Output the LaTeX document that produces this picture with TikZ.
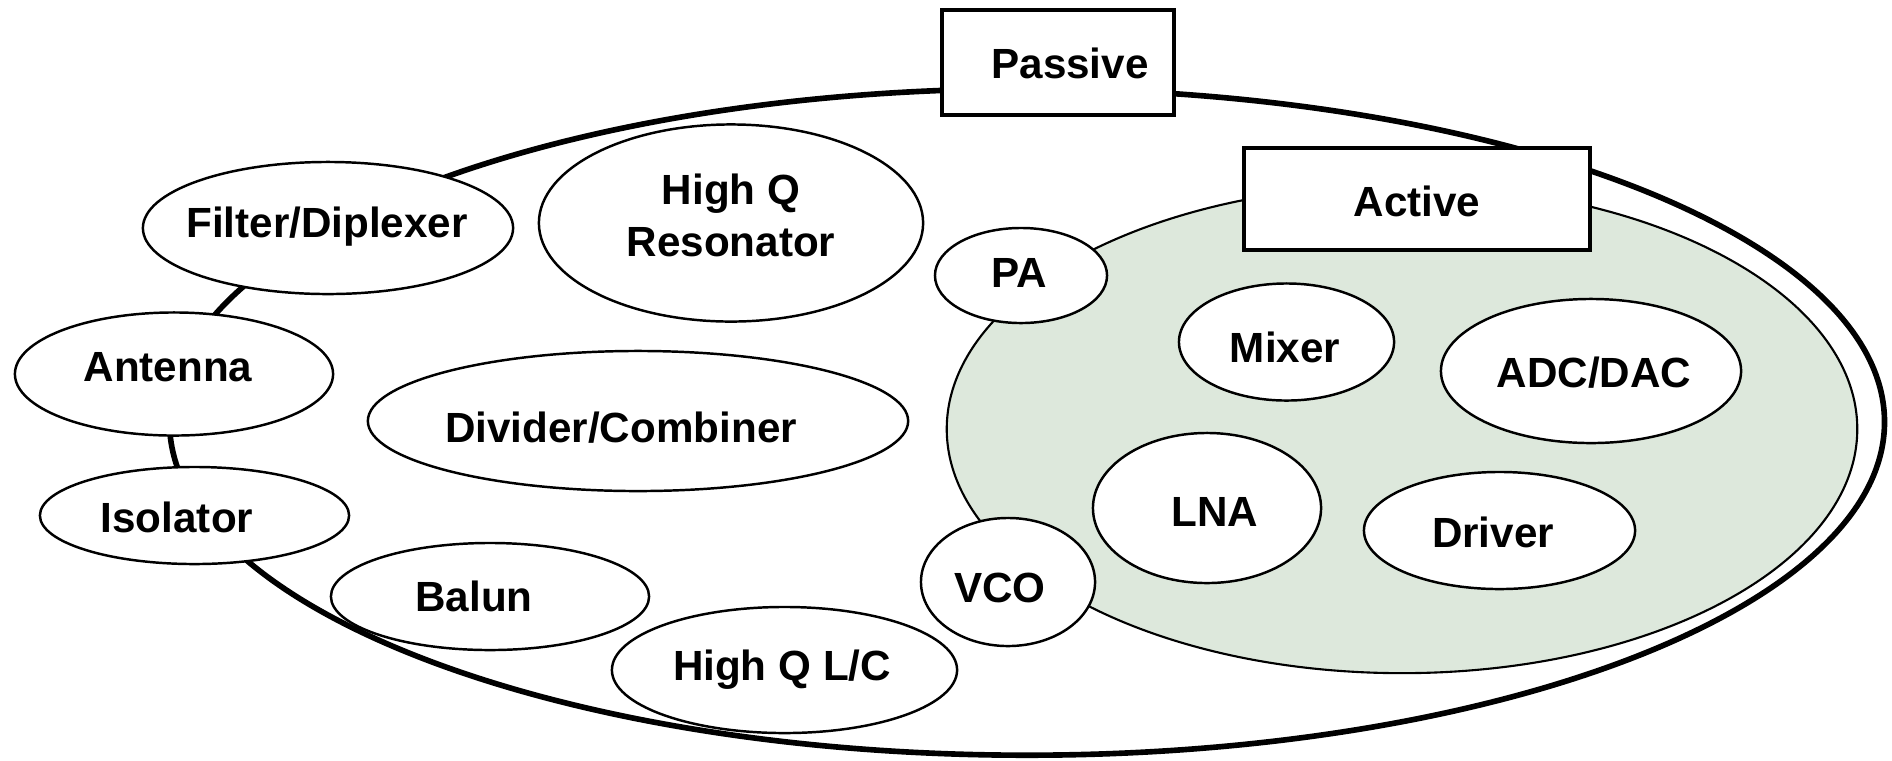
\documentclass[tikz,border=0pt]{standalone}
\usepackage{fontspec}
\setmainfont{Liberation Sans}
\usetikzlibrary{shapes.geometric}
\definecolor{activebg}{RGB}{221,232,220}
\tikzset{
  blob/.style={ellipse, draw, fill=white, line width=0.7pt, inner sep=0pt},
  tag/.style={rectangle, draw, fill=white, line width=1pt, inner sep=0pt},
  lbl/.style={font=\fontsize{12}{14.8}\selectfont\bfseries, inner sep=0pt, anchor=base}
}

\begin{document}
\begin{tikzpicture}[x=0.01cm, y=-0.01cm]
    \useasboundingbox (0,0) rectangle (1892,760);

    % Outer ring - passive parts
    \node[ellipse, draw, line width=1.6pt, inner sep=0pt,
          minimum width=17.14cm, minimum height=6.66cm] (ring) at (1027,422) {};

    % Inner region - active parts
    \node[ellipse, draw, fill=activebg, line width=0.6pt, inner sep=0pt,
          minimum width=9.10cm, minimum height=4.88cm] (core) at (1402,429) {};

    % Part bubbles
    \foreach \n/\x/\y/\w/\h in {filter/328/228/3.70/1.32, reson/731/223/3.84/1.97,
        antenna/174/374/3.18/1.23, divider/638/421/5.40/1.40,
        isolator/194.5/515.5/3.09/0.97, balun/490/596.5/3.18/1.07,
        hqlc/784.5/670/3.45/1.26, pa/1021/275.5/1.72/0.95,
        vco/1008/582/1.74/1.28, mixer/1286.5/342/2.15/1.17,
        adc/1591/371/3.00/1.44, lna/1207/508/2.28/1.50,
        driver/1499.5/530.5/2.71/1.17} {
        \node[blob, minimum width=\w cm, minimum height=\h cm] (\n) at (\x,\y) {};
    }

    % Headers
    \node[tag, minimum width=2.32cm, minimum height=1.05cm] (passive) at (1058,62.5) {};
    \node[tag, minimum width=3.46cm, minimum height=1.02cm] (active) at (1417,199) {};

    % Labels
    \node[lbl] (passivet) at (1070,78) {Passive};
    \node[lbl] (activet) at (1417,216) {Active};
    \node[lbl] (filtert) at (327,237) {Filter/Diplexer};
    \node[lbl, anchor=center, align=center] (resont) at (731,215) {High Q\\Resonator};
    \node[lbl] (antennat) at (168,381) {Antenna};
    \node[lbl] (dividert) at (621,442) {Divider/Combiner};
    \node[lbl] (isolatort) at (177,532) {Isolator};
    \node[lbl] (balunt) at (474,611) {Balun};
    \node[lbl] (hqlct) at (782,680) {High Q L/C};
    \node[lbl] (vcot) at (1000,602) {VCO};
    \node[lbl] (pat) at (1019,287) {PA};
    \node[lbl] (mixert) at (1285,362) {Mixer};
    \node[lbl] (lnat) at (1215,526) {LNA};
    \node[lbl] (drivert) at (1493,547) {Driver};
    \node[lbl] (adct) at (1594,387) {ADC/DAC};
\end{tikzpicture}
\end{document}
